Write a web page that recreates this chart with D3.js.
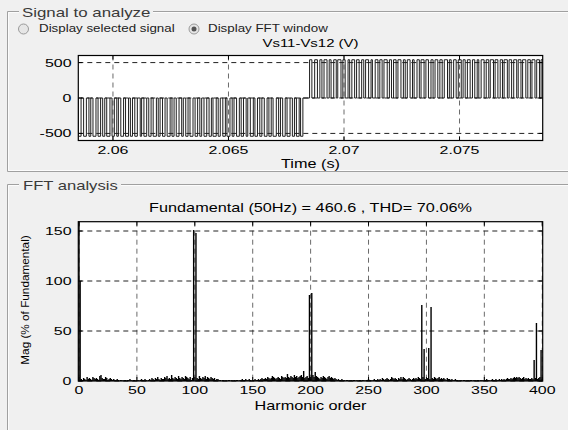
<!DOCTYPE html>
<html>
<head>
<meta charset="utf-8">
<script src="https://cdn.jsdelivr.net/npm/d3@7"></script>
<style>
  html, body { margin: 0; padding: 0; background: #f0f0f0; }
  svg { display: block; }
  text { font-family: "Liberation Sans", Arial, Helvetica, sans-serif; }
</style>
</head>
<body>
<div id="chart"></div>
<script>
// ---- time-domain signal: Vs11-Vs12 switching pulses ----
// time origin of the pulse tables (s); pulses are [centre ms, width ms]
const timeOrigin = 2.058;
const timeWindow = [2.0585, 2.0786];
const pulseLevels = [-540, 540];
const negPulses = [
  [0.56,0.12],[0.79,0.12],[1.00,0.08],[1.20,0.13],[1.41,0.11],[1.60,0.09],[1.80,0.14],[2.01,0.10],[2.20,0.07],[2.40,0.12],
  [2.61,0.13],[2.80,0.09],[3.00,0.11],[3.21,0.06],[3.40,0.12],[3.60,0.10],[3.81,0.14],[4.00,0.08],[4.20,0.11],[4.41,0.13],
  [4.60,0.09],[4.80,0.12],[5.01,0.07],[5.20,0.10],[5.40,0.13],[5.61,0.11],[5.80,0.08],[6.00,0.12],[6.21,0.10],[6.40,0.14],
  [6.60,0.09],[6.81,0.11],[7.00,0.13],[7.20,0.08],[7.41,0.12],[7.60,0.10],[7.80,0.07],[8.01,0.13],[8.20,0.11],[8.40,0.09],
  [8.61,0.12],[8.80,0.10],[9.00,0.14],[9.21,0.08],[9.40,0.11],[9.60,0.13],[9.81,0.09],[10.00,0.12],[10.17,0.10]
];
const posPulses = [
  [10.56,0.10],[10.79,0.12],[11.00,0.09],[11.20,0.13],[11.40,0.08],[11.61,0.11],[11.80,0.14],[12.00,0.10],[12.21,0.07],[12.40,0.12],
  [12.60,0.11],[12.81,0.09],[13.00,0.13],[13.20,0.06],[13.41,0.12],[13.60,0.10],[13.80,0.14],[14.01,0.09],[14.20,0.11],[14.40,0.13],
  [14.61,0.08],[14.80,0.12],[15.00,0.07],[15.21,0.10],[15.40,0.13],[15.60,0.11],[15.81,0.09],[16.00,0.12],[16.20,0.10],[16.41,0.14],
  [16.60,0.08],[16.80,0.11],[17.01,0.13],[17.20,0.09],[17.40,0.12],[17.61,0.10],[17.80,0.07],[18.00,0.13],[18.21,0.11],[18.40,0.14],
  [18.60,0.12],[18.81,0.10],[19.00,0.14],[19.20,0.11],[19.41,0.13],[19.60,0.12],[19.80,0.14],[20.01,0.11],[20.20,0.13],[20.40,0.12],[20.60,0.14]
];
const timeTicks = [2.06, 2.065, 2.07, 2.075];
const voltTicks = [-500, 0, 500];

// ---- harmonic spectrum, % of fundamental, orders 0..400 ----
const harmonicMag = [
  160,100,2,1,3,2,1,4,2,3,2,1,4,3,2,3,2,1,5,6,
  3,2,2,4,3,1,2,3,2,1,2,1,1,2,1,0.5,1,1,0.5,1,
  1,0.5,1,1,2,1,0.5,1,1,0.5,1,1,0.5,1,2,1,1,2,1,0.5,
  1,2,1,3,2,1,3,2,4,2,1,3,2,2,4,3,5,2,3,2,
  6,3,2,4,3,2,5,3,2,4,3,2,5,4,3,2,4,1,3,151,
  0,148,3,2,5,3,2,4,3,5,2,4,3,2,4,3,2,3,1,2,
  2,1,1,0.5,1,1,0.5,1,0.5,1,1,0.5,1,0.5,1,0.5,1,1,0.5,1,
  1,2,1,1,2,1,1,2,1,0.5,1,1,2,1,1,2,1,2,3,2,
  2,3,2,4,3,2,3,5,4,3,2,3,4,3,2,5,4,3,4,3,
  7,4,3,5,4,3,6,4,5,3,4,5,6,4,10,3,4,5,3,86,
  2,88,6,4,9,5,4,3,2,4,3,5,4,3,2,4,5,3,4,3,
  2,3,2,1,2,1,1,2,1,1,0.5,1,1,0.5,1,1,0.5,1,1,0.5,
  1,0.5,1,1,0.5,1,1,0.5,1,1,2,1,1,0.5,1,2,1,1,2,1,
  2,1,3,2,1,2,3,2,1,2,4,3,2,3,2,1,3,2,4,2,
  4,3,2,1,2,3,2,1,2,3,2,3,2,4,3,2,76,4,32,2,
  0,3,33,2,74,3,2,4,3,2,3,4,2,3,2,3,2,1,3,2,
  2,1,2,1,1,2,1,1,0.5,1,1,0.5,1,1,0.5,1,1,0.5,1,1,
  0.5,1,1,0.5,1,1,0.5,1,1,0.5,1,1,2,1,1,0.5,1,2,1,1,
  2,1,1,2,1,2,1,2,1,2,3,2,2,3,2,3,4,3,4,3,
  4,3,2,3,4,2,3,2,3,2,2,3,2,21,3,58,2,3,4,31,
  2
];
const orderTicks = [0, 50, 100, 150, 200, 250, 300, 350, 400];
const magTicks = [0, 50, 100, 150];

const W = 568, H = 430;
const svg = d3.select("#chart").append("svg").attr("width", W).attr("height", H);
svg.append("rect").attr("width", W).attr("height", H).attr("fill", "#f0f0f0");

// text helper: horizontally stretched label anchored at (x, y)
function label(g, str, x, y, o = {}) {
  return g.append("text")
    .attr("transform", `translate(${x},${y}) ${o.rotate ? `rotate(${o.rotate})` : ""} scale(${o.sx || 1},1)`)
    .attr("font-size", o.size || 11)
    .attr("text-anchor", o.anchor || "start")
    .attr("fill", o.color || "#000")
    .text(str);
}

// group boxes with etched border
function groupBox(x, y, bottom, labelX0, labelX1) {
  const g = svg.append("g").attr("fill", "none");
  g.append("path").attr("d", `M${labelX0},${y}H${x}V${bottom}H${W + 5}M${labelX1},${y}H${W + 5}`)
    .attr("stroke", "#a0a0a0").attr("stroke-width", 1);
  g.append("path").attr("d", `M${labelX0},${y + 1}H${x + 1}V${bottom - 1}H${W + 5}M${labelX1},${y + 1}H${W + 5}`)
    .attr("stroke", "#ffffff").attr("stroke-width", 1).attr("opacity", 0.8);
}
groupBox(7.5, 11.5, 171.5, 19, 153);
groupBox(7.5, 184.5, 440, 19, 121);
label(svg, "Signal to analyze", 22, 17, { size: 13.5, sx: 1.25, color: "#3a3a3a" });
label(svg, "FFT analysis", 23, 190, { size: 13.5, sx: 1.23, color: "#3a3a3a" });

// radio buttons
function radio(cx, cy, checked) {
  svg.append("circle").attr("cx", cx).attr("cy", cy).attr("r", 5)
    .attr("fill", "#e6e6e6").attr("stroke", "#9a9a9a").attr("stroke-width", 1);
  if (checked) {
    svg.append("circle").attr("cx", cx).attr("cy", cy).attr("r", 2.5).attr("fill", "#555");
  }
}
radio(23.5, 29, false);
label(svg, "Display selected signal", 39, 32, { size: 10.5, sx: 1.27, color: "#222" });
radio(194, 29, true);
label(svg, "Display FFT window", 208, 32, { size: 10.5, sx: 1.27, color: "#222" });

// dashed grid
function grid(g, x, y, xTicks, yTicks, x0, x1, y0, y1) {
  g.append("g").selectAll("line").data(xTicks).join("line")
    .attr("x1", d => x(d)).attr("x2", d => x(d)).attr("y1", y0).attr("y2", y1)
    .attr("stroke", "#6a6a6a").attr("stroke-dasharray", "5,4").attr("stroke-width", 1);
  g.append("g").selectAll("line").data(yTicks).join("line")
    .attr("x1", x0).attr("x2", x1).attr("y1", d => y(d)).attr("y2", d => y(d))
    .attr("stroke", "#222").attr("stroke-dasharray", "5,4").attr("stroke-width", 1);
}
// axes box with inward ticks on all sides
function axisBox(g, x, y, xTicks, yTicks, x0, x1, y0, y1) {
  const L = 4;
  const t = g.append("g").attr("stroke", "#000").attr("stroke-width", 1);
  xTicks.forEach(d => {
    t.append("line").attr("x1", x(d)).attr("x2", x(d)).attr("y1", y1).attr("y2", y1 - L);
    t.append("line").attr("x1", x(d)).attr("x2", x(d)).attr("y1", y0).attr("y2", y0 + L);
  });
  yTicks.forEach(d => {
    t.append("line").attr("x1", x0).attr("x2", x0 + L).attr("y1", y(d)).attr("y2", y(d));
    t.append("line").attr("x1", x1).attr("x2", x1 - L).attr("y1", y(d)).attr("y2", y(d));
  });
  g.append("rect").attr("x", x0).attr("y", y0).attr("width", x1 - x0).attr("height", y1 - y0)
    .attr("fill", "none").attr("stroke", "#000").attr("stroke-width", 1.2);
}

// ---------- time-domain panel ----------
const tx0 = 78.3, tx1 = 542.7, ty0 = 55.5, ty1 = 140.5;
const xT = d3.scaleLinear().domain(timeWindow).range([tx0, tx1]);
const yT = d3.scaleLinear().domain([-600, 600]).range([ty1, ty0]);
const gT = svg.append("g");
gT.append("rect").attr("x", tx0).attr("y", ty0).attr("width", tx1 - tx0).attr("height", ty1 - ty0).attr("fill", "#fff");
gT.append("clipPath").attr("id", "clipT").append("rect")
  .attr("x", tx0).attr("y", ty0).attr("width", tx1 - tx0).attr("height", ty1 - ty0);
grid(gT, xT, yT, timeTicks, voltTicks, tx0, tx1, ty0, ty1);

// build the switching trace
const pts = [[timeWindow[0], 0]];
function addPulses(list, level) {
  list.forEach(([c, w]) => {
    const s = timeOrigin + (c - w / 2) / 1000, e = timeOrigin + (c + w / 2) / 1000;
    pts.push([s, 0], [s, level], [e, level], [e, 0]);
  });
}
addPulses(negPulses, pulseLevels[0]);
addPulses(posPulses, pulseLevels[1]);
pts.push([timeWindow[1] + 0.0002, 0]);
gT.append("path").attr("clip-path", "url(#clipT)")
  .attr("d", d3.line().x(d => xT(d[0])).y(d => yT(d[1]))(pts))
  .attr("fill", "none").attr("stroke", "#1e1e1e").attr("stroke-width", 1);

axisBox(gT, xT, yT, timeTicks, voltTicks, tx0, tx1, ty0, ty1);
voltTicks.forEach(v => label(svg, String(v), 71.5, yT(v) + 4, { size: 11, sx: 1.45, anchor: "end" }));
timeTicks.forEach(v => label(svg, d3.format("")(v), xT(v), 154, { size: 11, sx: 1.45, anchor: "middle" }));
label(svg, "Vs11-Vs12 (V)", 310.5, 47, { size: 11.5, sx: 1.3, anchor: "middle" });
label(svg, "Time (s)", 310.5, 168, { size: 12.5, sx: 1.3, anchor: "middle" });

// ---------- spectrum panel ----------
const fx0 = 78.3, fx1 = 542.7, fy0 = 221.7, fy1 = 381;
const xF = d3.scaleLinear().domain([-0.6, 400.4]).range([fx0, fx1]);
const yF = d3.scaleLinear().domain([0, 159.3]).range([fy1, fy0]);
const gF = svg.append("g");
gF.append("rect").attr("x", fx0).attr("y", fy0).attr("width", fx1 - fx0).attr("height", fy1 - fy0).attr("fill", "#fff");
gF.append("clipPath").attr("id", "clipF").append("rect")
  .attr("x", fx0).attr("y", fy0).attr("width", fx1 - fx0).attr("height", fy1 - fy0);
grid(gF, xF, yF, orderTicks, magTicks, fx0, fx1, fy0, fy1);
const bw = 1.4;
gF.append("g").attr("clip-path", "url(#clipF)").selectAll("rect")
  .data(harmonicMag.map((v, i) => ({ h: i, v })))
  .join("rect")
  .attr("x", d => xF(d.h) - bw / 2).attr("width", bw)
  .attr("y", d => yF(d.v)).attr("height", d => yF(0) - yF(d.v))
  .attr("fill", "#000");
axisBox(gF, xF, yF, orderTicks, magTicks, fx0, fx1, fy0, fy1);
magTicks.forEach(v => label(svg, String(v), 71.5, yF(v) + 4, { size: 11, sx: 1.45, anchor: "end" }));
orderTicks.forEach(v => label(svg, String(v), xF(v), 394, { size: 11, sx: 1.45, anchor: "middle" }));
label(svg, "Fundamental (50Hz) = 460.6 , THD= 70.06%", 310.5, 212, { size: 12.5, sx: 1.3, anchor: "middle" });
label(svg, "Harmonic order", 310.5, 410, { size: 12.5, sx: 1.3, anchor: "middle" });
label(svg, "Mag (% of Fundamental)", 28.5, 300, { size: 11, sx: 1.07, anchor: "middle", rotate: -90 });
</script>
</body>
</html>
